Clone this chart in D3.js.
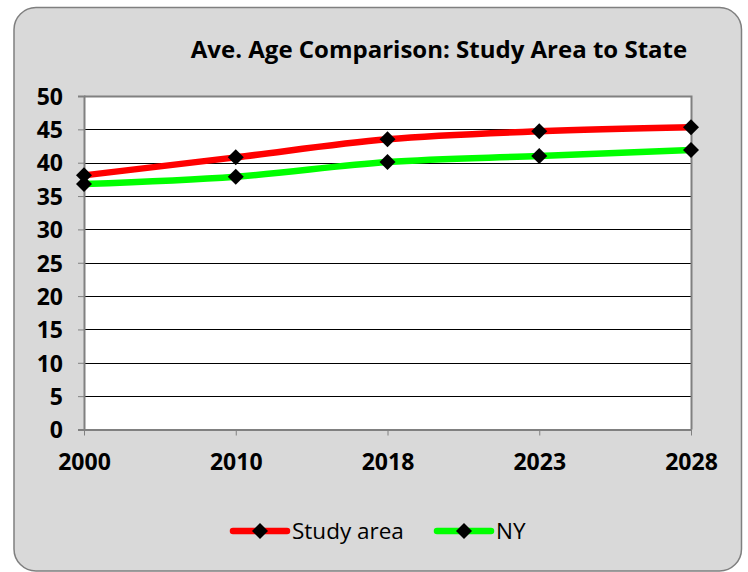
<!DOCTYPE html>
<html><head><meta charset="utf-8">
<script src="https://cdn.jsdelivr.net/npm/d3@7"></script>
<style>html,body{margin:0;padding:0;background:#fff;}svg{display:block;}</style>
</head><body>
<script>
const years = ["2000","2010","2018","2023","2028"];
const studyArea = [38.1, 40.8, 43.5, 44.7, 45.3];
const nyState = [36.8, 37.9, 40.1, 41.0, 41.9];
const yTicks = [0,5,10,15,20,25,30,35,40,45,50];
const seriesNames = ["Study area","NY"];
const seriesColors = ["#ff0000","#00ff00"];

const W = 748, H = 572;
const svg = d3.select("body").append("svg").attr("width",W).attr("height",H);
const font = "'Open Sans', 'Liberation Sans', sans-serif";

svg.append("rect").attr("x",14).attr("y",7.5).attr("width",727.5).attr("height",563.5)
  .attr("rx",22).attr("fill","#d9d9d9").attr("stroke","#7f7f7f").attr("stroke-width",1.5);

svg.append("text").attr("x",439).attr("y",58).attr("text-anchor","middle")
  .attr("font-family",font).attr("font-weight","bold").attr("font-size",24)
  .attr("fill","#000").text("Ave. Age Comparison: Study Area to State");

const L = 84, R = 691, T = 96, B = 429.5;
const x = d3.scalePoint().domain(years).range([L,R]).padding(0);
const y = d3.scaleLinear().domain([0,50]).range([B,T]);

svg.append("rect").attr("x",L).attr("y",T).attr("width",R-L).attr("height",B-T).attr("fill","#fff");

// gridlines
svg.append("g").selectAll("line").data(yTicks.filter(d=>d>0 && d<50)).join("line")
  .attr("x1",L).attr("x2",R).attr("y1",d=>Math.round(y(d))+0.5).attr("y2",d=>Math.round(y(d))+0.5)
  .attr("stroke","#000").attr("stroke-width",1);

// plot border top/right
svg.append("path").attr("d",`M${L},${T+0.5}H${R+0.5}V${B}`).attr("fill","none").attr("stroke","#808080").attr("stroke-width",2);

// y axis
const yAxis = svg.append("g").attr("transform",`translate(${L},0)`)
  .call(d3.axisLeft(y).tickValues(yTicks).tickSize(6).tickPadding(15));
yAxis.select(".domain").attr("stroke","#808080").attr("stroke-width",2);
yAxis.selectAll(".tick line").attr("stroke","#808080");
yAxis.selectAll("text").attr("font-family",font).attr("font-weight","bold").attr("font-size",23).attr("fill","#000").attr("dy","0.36em");

// x axis
const xAxis = svg.append("g").attr("transform",`translate(0,${B})`)
  .call(d3.axisBottom(x).tickSize(6).tickPadding(18).tickSizeOuter(0));
xAxis.select(".domain").attr("stroke","#808080").attr("stroke-width",2);
xAxis.selectAll(".tick line").attr("stroke","#808080");
xAxis.selectAll("text").attr("font-family",font).attr("font-weight","bold").attr("font-size",23).attr("fill","#000");

const series = [studyArea, nyState];
const line = d3.line().x((d,i)=>x(years[i])).y(d=>y(d)).curve(d3.curveMonotoneX);
const diamondPath = "M0,-8L8,0L0,8L-8,0Z";

series.forEach((s,k)=>{
  svg.append("path").datum(s).attr("d",line).attr("fill","none")
    .attr("stroke",seriesColors[k]).attr("stroke-width",6.5).attr("stroke-linecap","round");
});
series.forEach((s,k)=>{
  svg.append("g").selectAll("path").data(s).join("path")
    .attr("transform",(d,i)=>`translate(${x(years[i])},${y(d)})`)
    .attr("d",diamondPath).attr("fill","#000");
});

// legend
const legX = [233, 437];
seriesNames.forEach((n,k)=>{
  const g = svg.append("g").attr("transform",`translate(${legX[k]},531)`);
  g.append("line").attr("x1",0).attr("x2",54).attr("stroke",seriesColors[k]).attr("stroke-width",6.5).attr("stroke-linecap","round");
  g.append("path").attr("transform","translate(27,0)").attr("d",diamondPath).attr("fill","#000");
  g.append("text").attr("x",59).attr("y",8).attr("font-family",font).attr("font-size",22.5).attr("fill","#000").text(n);
});
</script>
</body></html>
